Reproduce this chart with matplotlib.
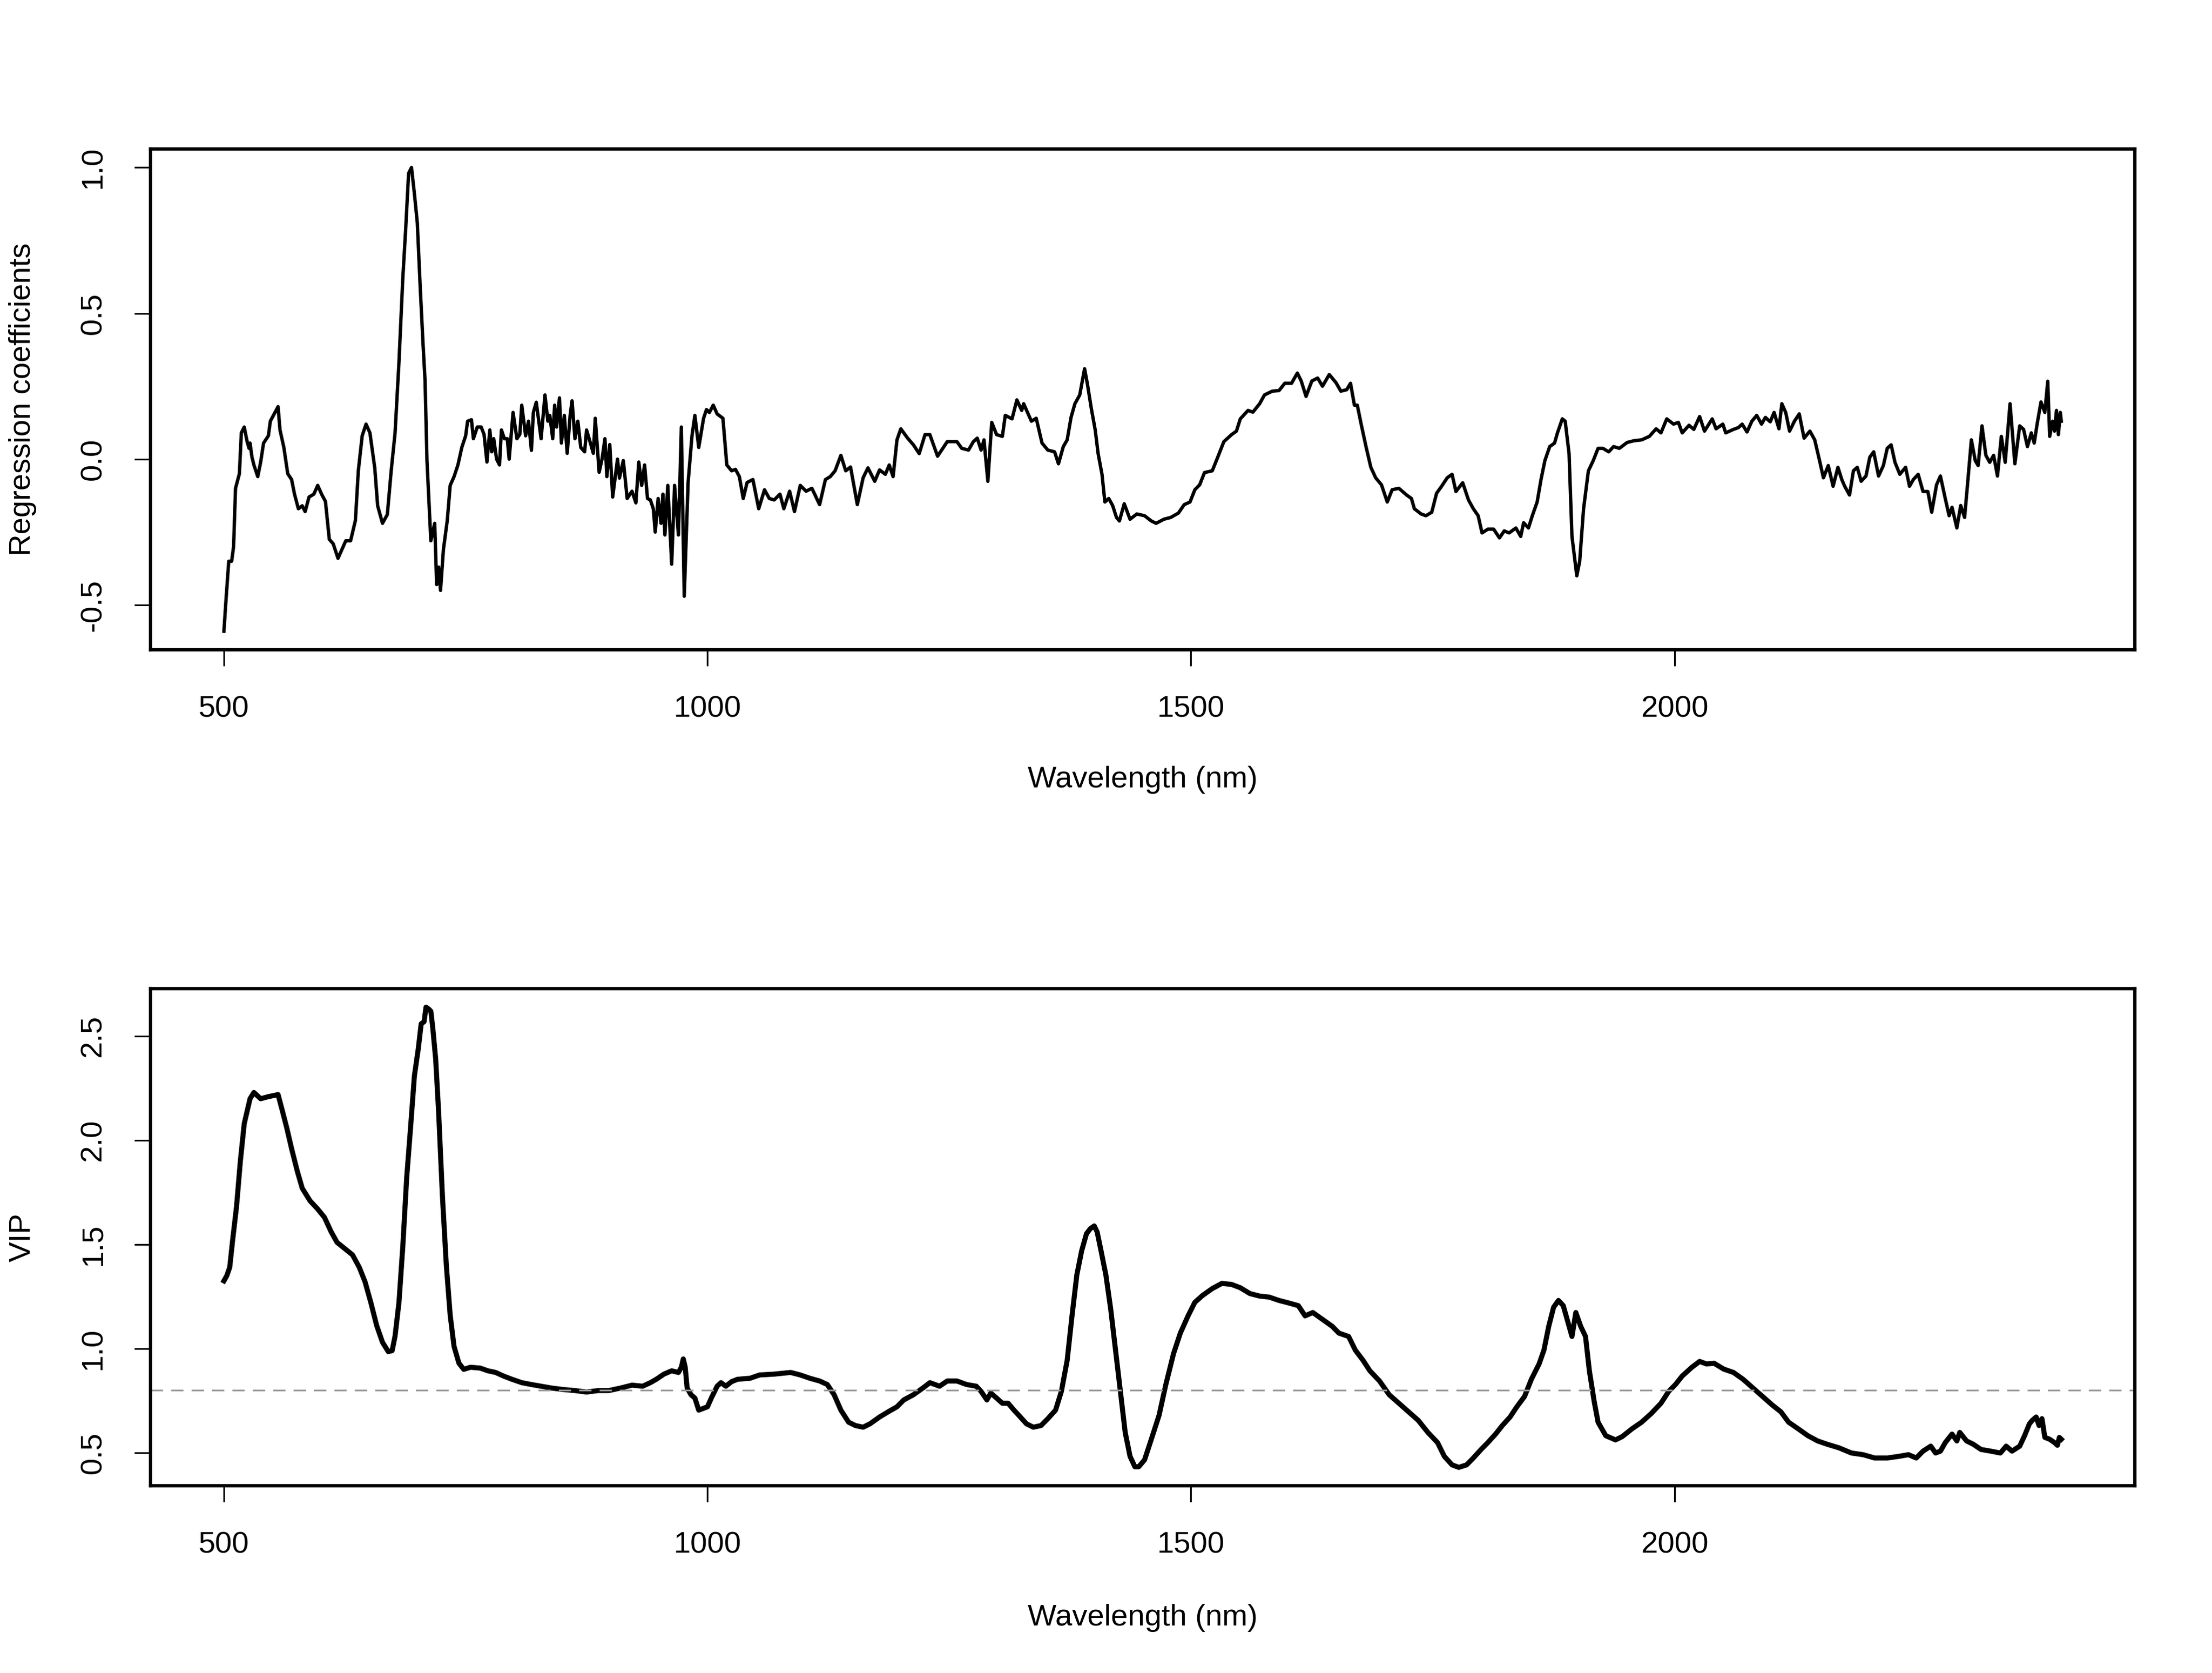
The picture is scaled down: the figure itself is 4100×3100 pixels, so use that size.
import matplotlib
matplotlib.use('agg')
import matplotlib.pyplot as plt

# traced values (wavelength nm, value)
coef_trace = [
    (500, -0.59), (502, -0.49), (505, -0.35), (508, -0.35), (510, -0.30), (512, -0.10), (516, -0.05),
    (518, 0.09), (521, 0.11), (524, 0.06), (526, 0.037), (527, 0.055), (529, 0.007), (531, -0.02),
    (535, -0.06), (538, -0.01), (541, 0.055), (546, 0.08), (548, 0.13), (552, 0.155), (556, 0.18),
    (558, 0.10), (562, 0.04), (566, -0.05), (570, -0.07), (573, -0.12), (577, -0.17), (581, -0.16),
    (584, -0.18), (588, -0.13), (593, -0.12), (597, -0.09), (601, -0.12), (605, -0.145), (609, -0.275),
    (613, -0.29), (618, -0.34), (622, -0.31), (626, -0.28), (631, -0.28), (636, -0.21), (639, -0.04),
    (643, 0.08), (647, 0.12), (651, 0.09), (656, -0.03), (659, -0.16), (664, -0.22), (669, -0.19),
    (673, -0.04), (677, 0.09), (681, 0.33), (685, 0.62), (688, 0.79), (691, 0.98), (694, 1.00),
    (697, 0.91), (700, 0.81), (703, 0.59), (706, 0.39), (708, 0.27), (710, -0.005), (714, -0.28),
    (718, -0.22), (720, -0.43), (722, -0.37), (724, -0.45), (727, -0.31), (731, -0.21), (734, -0.09),
    (738, -0.06), (742, -0.02), (746, 0.04), (750, 0.08), (752, 0.13), (756, 0.135), (758, 0.07),
    (762, 0.11), (766, 0.11), (769, 0.085), (772, -0.01), (775, 0.10), (777, 0.025), (779, 0.07),
    (782, 0.0), (785, -0.02), (787, 0.10), (790, 0.07), (793, 0.07), (795, 0.0), (799, 0.16),
    (803, 0.07), (806, 0.085), (808, 0.185), (812, 0.08), (815, 0.13), (818, 0.03), (820, 0.16),
    (823, 0.195), (828, 0.07), (832, 0.22), (835, 0.13), (837, 0.15), (840, 0.07), (842, 0.185),
    (844, 0.11), (847, 0.21), (849, 0.055), (852, 0.15), (855, 0.02), (858, 0.15), (860, 0.20),
    (863, 0.07), (866, 0.13), (869, 0.04), (873, 0.025), (875, 0.10), (879, 0.055), (882, 0.02),
    (884, 0.14), (888, -0.045), (891, 0.0), (894, 0.07), (896, -0.06), (899, 0.05), (902, -0.13),
    (907, 0.0), (909, -0.065), (913, -0.005), (917, -0.135), (922, -0.11), (926, -0.15), (929, -0.01),
    (932, -0.09), (935, -0.02), (938, -0.135), (941, -0.14), (944, -0.17), (946, -0.25), (949, -0.135),
    (952, -0.22), (954, -0.12), (956, -0.26), (959, -0.09), (963, -0.36), (966, -0.09), (970, -0.26),
    (973, 0.11), (976, -0.47), (980, -0.08), (984, 0.08), (987, 0.15), (991, 0.04), (996, 0.14),
    (999, 0.17), (1002, 0.16), (1006, 0.185), (1010, 0.155), (1016, 0.14), (1020, -0.02),
    (1025, -0.04), (1029, -0.035), (1033, -0.06), (1037, -0.135),
    (1041, -0.08), (1047, -0.07), (1053, -0.17), (1059, -0.105), (1064, -0.135), (1069, -0.14),
    (1075, -0.12), (1079, -0.17), (1085, -0.11), (1090, -0.18), (1096, -0.09), (1102, -0.11),
    (1108, -0.10), (1116, -0.156), (1122, -0.07), (1127, -0.06), (1132, -0.04), (1138, 0.013),
    (1143, -0.04), (1148, -0.027), (1155, -0.156), (1161, -0.064), (1166, -0.03), (1173, -0.076),
    (1178, -0.037), (1184, -0.052), (1188, -0.02), (1192, -0.06), (1196, 0.066), (1200, 0.104),
    (1207, 0.072), (1213, 0.049), (1219, 0.019), (1225, 0.084), (1230, 0.084), (1238, 0.01),
    (1248, 0.06), (1258, 0.06), (1263, 0.037), (1270, 0.031), (1275, 0.06), (1279, 0.072),
    (1283, 0.031), (1286, 0.066), (1290, -0.076), (1294, 0.126), (1299, 0.084), (1305, 0.078),
    (1308, 0.15), (1315, 0.138), (1320, 0.203), (1325, 0.167), (1327, 0.19), (1335, 0.13),
    (1340, 0.14), (1346, 0.055), (1352, 0.031), (1359, 0.025), (1363, -0.016), (1368, 0.043),
    (1372, 0.066), (1376, 0.143), (1380, 0.19), (1385, 0.22), (1390, 0.31), (1393, 0.256),
    (1397, 0.173), (1401, 0.10), (1404, 0.019), (1408, -0.052), (1411, -0.147), (1415, -0.135),
    (1419, -0.159), (1423, -0.20), (1426, -0.212), (1431, -0.153), (1437, -0.206), (1444, -0.188),
    (1452, -0.194), (1459, -0.212), (1464, -0.22), (1472, -0.206), (1479, -0.20), (1487, -0.185),
    (1493, -0.156), (1499, -0.147), (1504, -0.105), (1509, -0.088), (1514, -0.046), (1522, -0.04),
    (1527, 0.001), (1534, 0.06), (1542, 0.084), (1547, 0.096), (1551, 0.138), (1559, 0.167),
    (1564, 0.161), (1571, 0.19), (1576, 0.22), (1584, 0.233), (1591, 0.235), (1597, 0.26),
    (1604, 0.26), (1610, 0.295), (1614, 0.268), (1619, 0.215), (1625, 0.268), (1631, 0.278),
    (1636, 0.25), (1643, 0.29), (1650, 0.262), (1655, 0.233), (1661, 0.238), (1665, 0.26),
    (1669, 0.185), (1672, 0.185), (1676, 0.12), (1681, 0.043), (1686, -0.028), (1691, -0.064),
    (1697, -0.088), (1703, -0.147), (1708, -0.105), (1715, -0.10), (1723, -0.123), (1728, -0.135),
    (1731, -0.17), (1738, -0.188), (1743, -0.194), (1749, -0.182), (1754, -0.117), (1759, -0.094),
    (1765, -0.064), (1770, -0.052), (1774, -0.111),
    (1781, -0.081), (1787, -0.14), (1792, -0.17), (1797, -0.194), (1801, -0.253), (1807, -0.24),
    (1813, -0.24), (1819, -0.27), (1824, -0.246), (1829, -0.253), (1836, -0.236), (1841, -0.265),
    (1844, -0.218), (1849, -0.236), (1853, -0.194), (1858, -0.147), (1862, -0.07), (1866, -0.005),
    (1871, 0.043), (1876, 0.055), (1879, 0.09), (1884, 0.138), (1887, 0.13), (1891, 0.019),
    (1894, -0.265), (1899, -0.40), (1902, -0.35), (1906, -0.17), (1911, -0.04), (1916, -0.005),
    (1921, 0.037), (1926, 0.037), (1932, 0.025), (1937, 0.043), (1943, 0.037), (1951, 0.057),
    (1958, 0.063), (1966, 0.066), (1974, 0.078), (1981, 0.104), (1986, 0.09), (1992, 0.138),
    (1999, 0.12), (2004, 0.126), (2008, 0.09), (2015, 0.116), (2020, 0.102), (2026, 0.146),
    (2031, 0.096), (2039, 0.138), (2043, 0.104), (2050, 0.12), (2053, 0.09), (2061, 0.102),
    (2066, 0.108), (2070, 0.12), (2075, 0.093), (2080, 0.13), (2085, 0.15), (2090, 0.12),
    (2094, 0.143), (2099, 0.128), (2103, 0.16), (2108, 0.104), (2111, 0.19), (2115, 0.16),
    (2119, 0.096), (2124, 0.13), (2129, 0.155), (2134, 0.072), (2140, 0.096), (2145, 0.066),
    (2150, -0.005), (2154, -0.064), (2159, -0.022), (2164, -0.093), (2169, -0.028), (2173, -0.07),
    (2176, -0.093), (2181, -0.123), (2185, -0.04), (2189, -0.028), (2193, -0.076), (2198, -0.058),
    (2202, 0.007), (2206, 0.025), (2211, -0.058), (2216, -0.022), (2220, 0.037), (2224, 0.049),
    (2228, -0.011), (2233, -0.052), (2239, -0.028), (2243, -0.093), (2247, -0.07), (2252, -0.052),
    (2257, -0.111), (2262, -0.111), (2266, -0.182), (2271, -0.088), (2275, -0.058), (2280, -0.135),
    (2284, -0.194), (2287, -0.165), (2292, -0.236), (2296, -0.159), (2300, -0.2), (2303, -0.088),
    (2307, 0.066), (2311, -0.005), (2314, -0.022), (2318, 0.114), (2322, 0.013), (2326, -0.011),
    (2330, 0.013), (2334, -0.058), (2338, 0.078), (2342, -0.011), (2347, 0.19), (2352, -0.016),
    (2357, 0.114), (2361, 0.102), (2365, 0.043), (2369, 0.09), (2372, 0.055), (2375, 0.12),
    (2379, 0.196), (2383, 0.16), (2386, 0.267), (2388, 0.078), (2391, 0.13), (2393, 0.096),
    (2395, 0.167), (2397, 0.084), (2399, 0.16), (2400, 0.13),
]

vip_trace = [
    (500, 1.325), (503, 1.35), (506, 1.39), (509, 1.52), (513, 1.68), (517, 1.90), (521, 2.08),
    (525, 2.16), (527, 2.20), (531, 2.23), (538, 2.20), (546, 2.21), (556, 2.22), (560, 2.15),
    (565, 2.06), (570, 1.96), (576, 1.85), (581, 1.77), (589, 1.71), (597, 1.67), (604, 1.63),
    (611, 1.56), (617, 1.51), (625, 1.48), (633, 1.45), (640, 1.39), (646, 1.32), (652, 1.22),
    (658, 1.11), (664, 1.03), (670, 0.985), (674, 0.99), (677, 1.06), (681, 1.22), (685, 1.49),
    (689, 1.82), (693, 2.06), (697, 2.31), (701, 2.44), (704, 2.56), (707, 2.57), (709, 2.64),
    (712, 2.63), (714, 2.62), (716, 2.54), (719, 2.39), (722, 2.14), (726, 1.73), (730, 1.40),
    (734, 1.16), (738, 1.01), (743, 0.93), (748, 0.90), (755, 0.91), (765, 0.906), (773, 0.893),
    (781, 0.885), (789, 0.868), (798, 0.852), (808, 0.836), (818, 0.827), (828, 0.819), (839, 0.81),
    (851, 0.803), (863, 0.798), (875, 0.791), (887, 0.798), (898, 0.798), (910, 0.81), (922, 0.824),
    (933, 0.819), (941, 0.836), (947, 0.852), (955, 0.877), (963, 0.893), (970, 0.885), (973, 0.91),
    (975, 0.95), (977, 0.91), (979, 0.81), (983, 0.778), (987, 0.762), (991, 0.704), (1000, 0.72),
    (1004, 0.762), (1010, 0.819), (1014, 0.836), (1019, 0.819), (1025, 0.841), (1031, 0.852),
    (1038, 0.855), (1044, 0.857), (1054, 0.873), (1069, 0.877), (1086, 0.885), (1096, 0.873),
    (1106, 0.857), (1116, 0.844), (1124, 0.827), (1131, 0.778), (1138, 0.704), (1146, 0.646),
    (1153, 0.63), (1161, 0.622), (1168, 0.638), (1178, 0.671), (1188, 0.699), (1196, 0.72),
    (1203, 0.753), (1213, 0.778), (1223, 0.811), (1230, 0.836), (1240, 0.819), (1248, 0.844),
    (1258, 0.844), (1268, 0.827), (1278, 0.819), (1283, 0.794), (1289, 0.753), (1293, 0.786),
    (1299, 0.762), (1305, 0.737), (1311, 0.737), (1317, 0.704), (1322, 0.679), (1330, 0.638),
    (1337, 0.622), (1345, 0.63), (1352, 0.663), (1360, 0.704), (1366, 0.794), (1372, 0.943),
    (1377, 1.157), (1382, 1.354), (1387, 1.47), (1392, 1.552), (1396, 1.576), (1400, 1.589),
    (1403, 1.56), (1407, 1.47), (1412, 1.354), (1417, 1.19), (1422, 0.992), (1427, 0.794),
    (1432, 0.597), (1437, 0.482), (1442, 0.432), (1446, 0.432), (1452, 0.465), (1459, 0.564),
    (1467, 0.679), (1474, 0.827), (1482, 0.976), (1489, 1.074), (1497, 1.157), (1504, 1.222),
    (1512, 1.255), (1522, 1.288), (1532, 1.313), (1542, 1.308), (1551, 1.292), (1561, 1.264),
    (1571, 1.252), (1581, 1.247), (1591, 1.231), (1601, 1.219), (1611, 1.206), (1618, 1.157),
    (1626, 1.173), (1636, 1.14), (1646, 1.107), (1653, 1.074), (1663, 1.058), (1670, 0.992),
    (1678, 0.943), (1685, 0.893), (1695, 0.844), (1705, 0.778), (1715, 0.737), (1725, 0.696),
    (1735, 0.655), (1745, 0.597), (1755, 0.548), (1762, 0.482), (1770, 0.441), (1777, 0.429),
    (1785, 0.441), (1792, 0.474), (1800, 0.515), (1807, 0.548), (1815, 0.589), (1822, 0.63),
    (1830, 0.671), (1837, 0.72), (1845, 0.77), (1852, 0.852), (1860, 0.926), (1865, 0.992),
    (1870, 1.107), (1875, 1.198), (1880, 1.231), (1885, 1.206), (1889, 1.14), (1894, 1.058),
    (1898, 1.173), (1903, 1.107), (1908, 1.058), (1912, 0.893), (1917, 0.745), (1921, 0.646),
    (1929, 0.581), (1939, 0.561), (1946, 0.577), (1956, 0.614), (1966, 0.646), (1976, 0.688),
    (1986, 0.737), (1994, 0.794), (2001, 0.827), (2008, 0.868), (2018, 0.91), (2026, 0.938),
    (2033, 0.926), (2041, 0.929), (2051, 0.901), (2061, 0.885), (2071, 0.852), (2081, 0.811),
    (2091, 0.77), (2101, 0.729), (2110, 0.696), (2118, 0.646), (2128, 0.614), (2138, 0.581),
    (2148, 0.556), (2158, 0.54), (2170, 0.523), (2183, 0.498), (2195, 0.49), (2207, 0.474),
    (2220, 0.474), (2232, 0.482), (2242, 0.49), (2250, 0.474), (2257, 0.507), (2265, 0.531),
    (2270, 0.498), (2275, 0.507), (2280, 0.548), (2287, 0.589), (2292, 0.556), (2295, 0.597),
    (2302, 0.556), (2309, 0.54), (2317, 0.515), (2327, 0.507), (2337, 0.498), (2343, 0.531),
    (2349, 0.507), (2357, 0.531), (2362, 0.581), (2367, 0.638), (2370, 0.655), (2374, 0.671),
    (2377, 0.63), (2380, 0.663), (2383, 0.573), (2388, 0.564), (2393, 0.548), (2396, 0.535),
    (2398, 0.573), (2400, 0.564),
]

vip_threshold = 0.8
x_ticks = [500, 1000, 1500, 2000]
coef_ticks = [-0.5, 0.0, 0.5, 1.0]
coef_tick_labels = ['-0.5', '0.0', '0.5', '1.0']
vip_ticks = [0.5, 1.0, 1.5, 2.0, 2.5]
vip_tick_labels = ['0.5', '1.0', '1.5', '2.0', '2.5']

wl_coef, coef = zip(*coef_trace)
wl_vip, vip = zip(*vip_trace)

plt.rcParams['font.family'] = ['Liberation Sans', 'DejaVu Sans']
plt.rcParams['font.size'] = 13.5
plt.rcParams['axes.unicode_minus'] = False

fig = plt.figure(figsize=(41 / 3, 31 / 3), dpi=300)
ax1 = fig.add_axes([0.068, 0.6116, 0.8971, 0.2994])
ax2 = fig.add_axes([0.068, 0.1119, 0.8971, 0.2971])


def style_axes(ax, yticks, ylabels, xlabel_y, ylabel):
    ax.margins(x=0.04, y=0.04)
    for side in ['top', 'right', 'bottom', 'left']:
        ax.spines[side].set_linewidth(1.5)
    ax.set_xticks(x_ticks)
    ax.set_yticks(yticks)
    ax.set_yticklabels(ylabels)
    ax.tick_params(direction='out', length=7.2, width=0.75)
    ax.tick_params(axis='x', pad=13)
    ax.tick_params(axis='y', pad=12, labelrotation=90)
    for lab in ax.get_yticklabels():
        lab.set_va('center')
    ax.text(0.5, xlabel_y, 'Wavelength (nm)', transform=ax.transAxes,
            ha='center', va='center')
    ax.text(-0.0644, 0.5, ylabel, transform=ax.transAxes, rotation=90,
            ha='center', va='center')


# regression coefficients
ax1.plot(wl_coef, coef, color='black', linewidth=1.5)
style_axes(ax1, coef_ticks, coef_tick_labels, -0.26, 'Regression coefficients')

# VIP with threshold line
ax2.plot(wl_vip, vip, color='black', linewidth=2.25)
ax2.axhline(vip_threshold, color='#999999', linewidth=0.75, linestyle=(0, (7.3, 4.8)))
style_axes(ax2, vip_ticks, vip_tick_labels, -0.266, 'VIP')

fig.savefig('out.png', dpi=300)
plt.close('all')
